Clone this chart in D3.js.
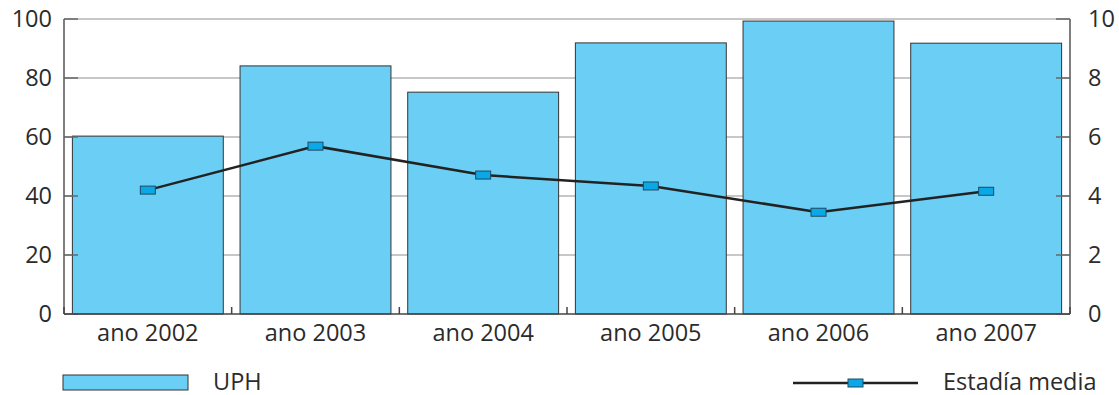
<!DOCTYPE html>
<html lang="es">
<head>
<meta charset="utf-8">
<title>UPH y estadía media</title>
<script src="https://cdn.jsdelivr.net/npm/d3@7"></script>
<style>
  body { margin: 0; background: #fff; }
  text { font-family: "Open Sans", sans-serif; fill: #2b2b2b; }
</style>
</head>
<body>
<script>
// data
var years = ["ano 2002", "ano 2003", "ano 2004", "ano 2005", "ano 2006", "ano 2007"];
var uph = [60.3, 84.1, 75.2, 91.9, 99.3, 91.8];
var estadia = [4.2, 5.69, 4.71, 4.34, 3.45, 4.16];
var leftTicks = [0, 20, 40, 60, 80, 100];
var rightTicks = [0, 2, 4, 6, 8, 10];

var w = 1119, h = 395;
var m = {left: 64, right: 49, top: 19, bottom: 81};
var fs = "23.5px";

var svg = d3.select("body").append("svg")
    .attr("width", w).attr("height", h);

var x = d3.scaleBand().domain(years)
    .range([m.left, w - m.right])
    .paddingInner(0.1).paddingOuter(0.05);
var y = d3.scaleLinear().domain([0, 100]).range([h - m.bottom, m.top]);
var y2 = d3.scaleLinear().domain([0, 10]).range([h - m.bottom, m.top]);

var x0 = m.left, x1 = w - m.right, yb = h - m.bottom;

// gridlines
svg.append("g").selectAll("line")
    .data(leftTicks.slice(1)).enter().append("line")
    .attr("x1", x0).attr("x2", x1)
    .attr("y1", function(d) { return y(d); })
    .attr("y2", function(d) { return y(d); })
    .style("stroke", "#b4b4b4").style("stroke-width", 1.5);

// bars
svg.append("g").selectAll("rect")
    .data(uph).enter().append("rect")
    .attr("x", function(d, i) { return x(years[i]); })
    .attr("y", function(d) { return y(d); })
    .attr("width", x.bandwidth())
    .attr("height", function(d) { return yb - y(d); })
    .style("fill", "#6bcff5")
    .style("stroke", "#333")
    .style("stroke-width", 1);

// left axis
var ax = svg.append("g");
ax.append("line").attr("x1", x0).attr("x2", x0).attr("y1", m.top).attr("y2", yb)
    .style("stroke", "#555").style("stroke-width", 1.5);
ax.selectAll(".lt").data(leftTicks).enter().append("line")
    .attr("x1", x0).attr("x2", x0 + 14)
    .attr("y1", function(d) { return y(d); }).attr("y2", function(d) { return y(d); })
    .style("stroke", "#666").style("stroke-width", 1.5);
ax.selectAll(".ll").data(leftTicks).enter().append("text")
    .attr("x", 52).attr("y", function(d) { return y(d); })
    .attr("dy", "0.35em").attr("text-anchor", "end")
    .style("font-size", fs)
    .text(function(d) { return d; });

// right axis
ax.append("line").attr("x1", x1).attr("x2", x1).attr("y1", m.top).attr("y2", yb)
    .style("stroke", "#555").style("stroke-width", 1.5);
ax.selectAll(".rt").data(rightTicks).enter().append("line")
    .attr("x1", x1 - 14).attr("x2", x1)
    .attr("y1", function(d) { return y2(d); }).attr("y2", function(d) { return y2(d); })
    .style("stroke", "#666").style("stroke-width", 1.5);
ax.selectAll(".rl").data(rightTicks).enter().append("text")
    .attr("x", 1088).attr("y", function(d) { return y2(d); })
    .attr("dy", "0.35em").attr("text-anchor", "start")
    .style("font-size", fs)
    .text(function(d) { return d; });

// bottom axis with category separators
ax.append("line").attr("x1", x0).attr("x2", x1).attr("y1", yb).attr("y2", yb)
    .style("stroke", "#444").style("stroke-width", 1.5);
var seps = years.map(function(d) { return x(d) - x.step() * x.paddingInner() / 2; });
seps[0] = x0; seps.push(x1);
ax.selectAll(".sep").data(seps).enter().append("line")
    .attr("x1", function(d) { return d; }).attr("x2", function(d) { return d; })
    .attr("y1", yb).attr("y2", yb - 7)
    .style("stroke", "#444").style("stroke-width", 1.5);
ax.selectAll(".cl").data(years).enter().append("text")
    .attr("x", function(d) { return x(d) + x.bandwidth() / 2; })
    .attr("y", 341)
    .attr("text-anchor", "middle")
    .style("font-size", fs)
    .text(function(d) { return d; });

// line series
var line = d3.line()
    .x(function(d, i) { return x(years[i]) + x.bandwidth() / 2; })
    .y(function(d) { return y2(d); });
svg.append("path").datum(estadia)
    .attr("d", line)
    .style("fill", "none").style("stroke", "#222").style("stroke-width", 2.5);
svg.append("g").selectAll("rect")
    .data(estadia).enter().append("rect")
    .attr("x", function(d, i) { return x(years[i]) + x.bandwidth() / 2 - 7.5; })
    .attr("y", function(d) { return y2(d) - 4; })
    .attr("width", 15).attr("height", 8)
    .style("fill", "#0aa8e6").style("stroke", "#1e4a63").style("stroke-width", 1);

// legend
var lg = svg.append("g");
lg.append("rect").attr("x", 63).attr("y", 375).attr("width", 125).attr("height", 15)
    .style("fill", "#6bcff5").style("stroke", "#333").style("stroke-width", 1);
lg.append("text").attr("x", 213).attr("y", 390).style("font-size", fs).text("UPH");
lg.append("line").attr("x1", 793).attr("x2", 918).attr("y1", 383).attr("y2", 383)
    .style("stroke", "#222").style("stroke-width", 2.5);
lg.append("rect").attr("x", 848).attr("y", 379).attr("width", 15).attr("height", 8)
    .style("fill", "#0aa8e6").style("stroke", "#1e4a63").style("stroke-width", 1);
lg.append("text").attr("x", 943).attr("y", 390).style("font-size", fs).text("Estadía media");
</script>
</body>
</html>
